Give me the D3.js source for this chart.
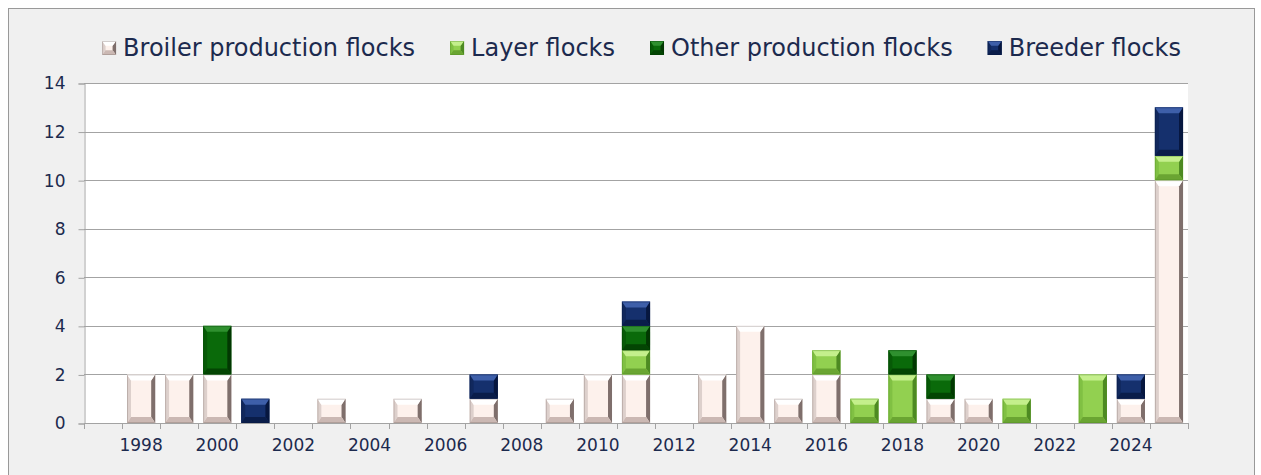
<!DOCTYPE html>
<html>
<head>
<meta charset="utf-8">
<script src="https://cdn.jsdelivr.net/npm/d3@7"></script>
<style>
  body { margin: 0; background: #fff; }
  svg text { font-family: "DejaVu Sans", sans-serif; fill: #1c2a4e; }
</style>
</head>
<body>
<svg id="chart" width="1261" height="475"></svg>
<script>
// Data
const years = d3.range(1997, 2026);
const broiler  = [0,2,2,2,0,0,1,0,1,0,1,0,1,2,2,0,2,4,1,2,0,0,1,1,0,0,0,1,10];
const layer    = [0,0,0,0,0,0,0,0,0,0,0,0,0,0,1,0,0,0,0,1,1,2,0,0,1,0,2,0,1];
const other    = [0,0,0,2,0,0,0,0,0,0,0,0,0,0,1,0,0,0,0,0,0,1,1,0,0,0,0,0,0];
const breeder  = [0,0,0,0,1,0,0,0,0,0,1,0,0,0,1,0,0,0,0,0,0,0,0,0,0,0,0,1,2];
const seriesNames = ["Broiler production flocks", "Layer flocks", "Other production flocks", "Breeder flocks"];
const yTicks = [0, 2, 4, 6, 8, 10, 12, 14];
const xLabels = d3.range(1998, 2025, 2);

// bevel colours per series: face, top, bottom, left, right
const styles = [
  {face: "#fdf1ec", top: "#ffffff", bottom: "#cbb8b3", left: "#ddd0cc", right: "#7f6f6c"},
  {face: "#92d050", top: "#c4ef8c", bottom: "#6aa532", left: "#80c043", right: "#4d8a22"},
  {face: "#0a6a0a", top: "#2f902f", bottom: "#034503", left: "#075a07", right: "#023802"},
  {face: "#15306d", top: "#3e5fa9", bottom: "#0a1d4a", left: "#11285d", right: "#07173f"}
];

const svg = d3.select("#chart");

// outer frame
svg.append("rect")
    .attr("x", 8.5).attr("y", 8.5)
    .attr("width", 1246).attr("height", 480)
    .attr("fill", "#f0f0f0")
    .attr("stroke", "#999");

const plot = {left: 84, right: 1188, top: 83, bottom: 423};

const x = d3.scaleBand()
    .domain(years)
    .range([plot.left, plot.right])
    .paddingInner(0.26)
    .paddingOuter(0.13);
const y = d3.scaleLinear()
    .domain([0, 14])
    .range([plot.bottom, plot.top]);

// plot background
svg.append("rect")
    .attr("x", plot.left).attr("y", plot.top)
    .attr("width", plot.right - plot.left)
    .attr("height", plot.bottom - plot.top)
    .attr("fill", "#fff");

// gridlines
svg.append("g")
  .selectAll("line")
  .data(yTicks)
  .join("line")
    .attr("x1", plot.left).attr("x2", plot.right)
    .attr("y1", d => Math.round(y(d)) + 0.5)
    .attr("y2", d => Math.round(y(d)) + 0.5)
    .attr("stroke", "#a3a3a3");

// y axis
const yAxis = svg.append("g")
    .attr("transform", "translate(" + (plot.left + 0.5) + ",0.5)")
    .call(d3.axisLeft(y).tickValues(yTicks).tickSize(6).tickPadding(13));
yAxis.selectAll("path, line").attr("stroke", "#a3a3a3");
yAxis.selectAll("text").attr("font-size", 17).attr("fill", "#1c2a4e")
    .style("font-family", "'DejaVu Sans', sans-serif");

// x axis: tick marks on category boundaries, labels every two years
const step = x.step();
const bounds = years.map(d => x(d) - x.paddingInner() * step / 2).concat([plot.right]);
const xg = svg.append("g");
xg.append("line")
    .attr("x1", plot.left).attr("x2", plot.right)
    .attr("y1", plot.bottom + 0.5).attr("y2", plot.bottom + 0.5)
    .attr("stroke", "#a3a3a3");
xg.selectAll(".xt")
  .data(bounds)
  .join("line")
    .attr("class", "xt")
    .attr("x1", d => Math.round(d) + 0.5).attr("x2", d => Math.round(d) + 0.5)
    .attr("y1", plot.bottom).attr("y2", plot.bottom + 6)
    .attr("stroke", "#a3a3a3");
const xAxis = svg.append("g")
    .attr("transform", "translate(0," + plot.bottom + ")")
    .call(d3.axisBottom(x).tickValues(xLabels).tickSize(0).tickPadding(16));
xAxis.select(".domain").remove();
xAxis.selectAll("text").attr("font-size", 17).attr("fill", "#1c2a4e")
    .style("font-family", "'DejaVu Sans', sans-serif");

// stacked data
const table = years.map((yr, i) => ({year: yr, s0: broiler[i], s1: layer[i], s2: other[i], s3: breeder[i]}));
const stack = d3.stack().keys(["s0", "s1", "s2", "s3"])(table);

// draw one bevelled block
function bevel(g, x0, y0, w, h, st) {
  const b = Math.min(6, h / 3), s = Math.min(4, w / 4);
  const x1 = x0 + w, y1 = y0 + h;
  g.append("rect").attr("x", x0).attr("y", y0).attr("width", w).attr("height", h).attr("fill", st.face);
  const poly = (pts, c) => g.append("polygon").attr("points", pts.map(p => p.join(",")).join(" ")).attr("fill", c);
  poly([[x0, y0], [x0 + s, y0 + b], [x0 + s, y1 - b], [x0, y1]], st.left);
  poly([[x1, y0], [x1 - s, y0 + b], [x1 - s, y1 - b], [x1, y1]], st.right);
  poly([[x0, y0], [x1, y0], [x1 - s, y0 + b], [x0 + s, y0 + b]], st.top);
  poly([[x0, y1], [x1, y1], [x1 - s, y1 - b], [x0 + s, y1 - b]], st.bottom);
  g.append("rect").attr("x", x0 + 0.5).attr("y", y0 + 0.5).attr("width", w - 1).attr("height", h - 1)
      .attr("fill", "none").attr("stroke", d3.color(st.right).copy({opacity: 0.35}));
}

const bars = svg.append("g");
stack.forEach((layerData, k) => {
  layerData.forEach(d => {
    if (d[1] - d[0] <= 0) return;
    const x0 = x(d.data.year);
    bevel(bars, x0, y(d[1]), x.bandwidth(), y(d[0]) - y(d[1]), styles[k]);
  });
});

// legend
const legend = svg.append("g").attr("transform", "translate(0,48)");
const items = legend.selectAll("g").data(seriesNames).join("g");
items.append("text")
    .attr("x", 22).attr("y", 0).attr("dy", "0.35em")
    .attr("font-size", 24)
    .text(d => d);
let cx = 0;
const widths = [];
items.each(function() { widths.push(this.querySelector("text").getComputedTextLength()); });
const gap = 34;
const total = d3.sum(widths) + widths.length * 22 + gap * (widths.length - 1);
cx = 641 - total / 2;
items.each(function(d, i) {
  const g = d3.select(this).attr("transform", "translate(" + cx + ",0)");
  const sw = g.append("g");
  bevel(sw, 1, -7, 14, 14, styles[i]);
  cx += 22 + widths[i] + gap;
});
</script>
</body>
</html>
